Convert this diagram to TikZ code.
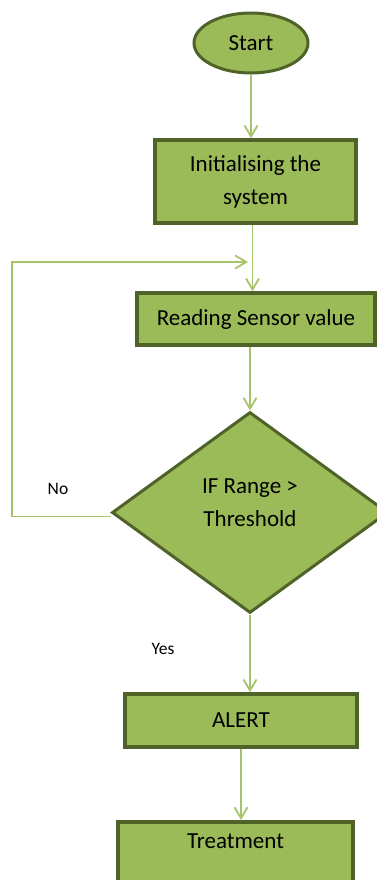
\documentclass[tikz,border=0pt]{standalone}
\usepackage{fontspec}
\setmainfont{Carlito}
\usetikzlibrary{shapes.geometric,arrows.meta,positioning}
\definecolor{boxfill}{HTML}{9BBB59}
\definecolor{boxline}{HTML}{4F6228}
\definecolor{flowline}{HTML}{A6C46B}

\begin{document}
\begin{tikzpicture}[x=1pt,y=-1pt,
    font=\fontsize{23}{33}\selectfont,
    block/.style={rectangle,draw=boxline,line width=3.5pt,fill=boxfill,align=center,inner sep=0pt},
    terminal/.style={ellipse,draw=boxline,line width=3pt,fill=boxfill,inner sep=0pt},
    decision/.style={diamond,draw=boxline,line width=3pt,fill=boxfill,align=center,inner sep=0pt},
    flow/.style={draw=flowline,line width=1.8pt,-{Straight Barb[length=11pt,width=13pt]}},
    note/.style={font=\fontsize{17.5}{20}\selectfont}]
    \useasboundingbox (0,0) rectangle (377,880);
    \clip (0,0) rectangle (377,880);

    \node[terminal,minimum width=114pt,minimum height=60pt] (start) at (251,43) {Start};
    \node[block,minimum width=201pt,minimum height=83pt] (init) at (255.5,181.5) {Initialising the\\system};
    \node[block,minimum width=238pt,minimum height=52pt] (read) at (256,319) {Reading Sensor value};
%    text depth pulls the two lines a little above the middle
    \node[decision,minimum width=276pt,minimum height=201pt,text depth=20pt] (check) at (250,512.5) {IF Range >\\Threshold};
    \node[block,minimum width=232pt,minimum height=53pt] (alert) at (241,720.5) {ALERT};
    \node[block,anchor=north,minimum width=235pt,text height=27pt,text depth=40pt] (treat) at (235.5,820) {Treatment};

    \node[note] (no) at (58,489) {No};
    \node[note] (yes) at (163,649) {Yes};

    \coordinate (corner) at (12,517);
    \coordinate (back) at (248,262);

    \draw[flow] (start.south) -- (start.south |- init.north);
    \draw[flow] ([xshift=-3pt]init.south) -- ([xshift=-3pt]init.south |- read.north);
    \draw[flow] (check.north |- read.south) -- (check.north);
    \draw[flow] ([yshift=-4pt]check.west) -- ([yshift=-4pt]check.west -| corner) |- (back);
    \draw[flow] (check.south) -- (check.south |- alert.north);
    \draw[flow] (alert.south) -- (alert.south |- treat.north);
\end{tikzpicture}
\end{document}
